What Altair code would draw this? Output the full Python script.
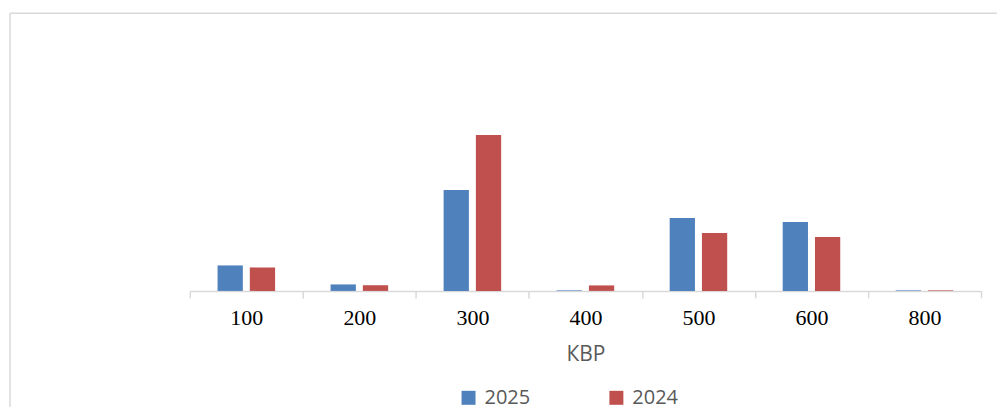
import altair as alt
import pandas as pd

categories = ["100", "200", "300", "400", "500", "600", "800"]
series = ["2025", "2024"]
values_2025 = [25.5, 6.5, 101, 0.6, 73, 69, 0.6]
values_2024 = [23.5, 5.7, 156, 5.5, 58, 54, 0.6]
colors = ["#4f81bd", "#c0504d"]

rows = []
for i, c in enumerate(categories):
    rows.append({"kvr": c, "year": "2025", "value": values_2025[i]})
    rows.append({"kvr": c, "year": "2024", "value": values_2024[i]})
df = pd.DataFrame(rows)

W, H = 792, 278

bars = alt.Chart(df).mark_bar().encode(
    x=alt.X(
        "kvr:N",
        sort=categories,
        scale=alt.Scale(paddingInner=0, paddingOuter=0),
        axis=alt.Axis(
            title="КВР",
            labelAngle=0,
            labelFont="Liberation Serif",
            labelFontSize=22,
            labelColor="#000000",
            labelPadding=10,
            titleFont="Open Sans",
            titleFontSize=21,
            titleFontWeight="normal",
            titleColor="#595959",
            titlePadding=15,
            domainColor="#d9d9d9",
            domainWidth=1.5,
            tickColor="#d9d9d9",
            tickWidth=1.5,
            tickSize=7,
            tickBand="extent",
            grid=False,
        ),
    ),
    xOffset=alt.XOffset(
        "year:N", sort=series,
        scale=alt.Scale(paddingInner=0.2167, paddingOuter=0.86),
    ),
    y=alt.Y("value:Q", scale=alt.Scale(domain=[0, H]), axis=None),
    color=alt.Color(
        "year:N",
        sort=series,
        scale=alt.Scale(domain=series, range=colors),
        legend=alt.Legend(
            title=None,
            orient="none",
            legendX=269,
            legendY=375,
            direction="horizontal",
            symbolType="square",
            symbolSize=196,
            symbolStrokeWidth=0,
            labelFont="Open Sans",
            labelFontSize=20,
            labelColor="#595959",
            labelOffset=6,
            columnPadding=76,
            padding=0,
        ),
    ),
)

frame = alt.Data(values=[{}])
top_rule = alt.Chart(frame).mark_rule(color="#d9d9d9", strokeWidth=1.5).encode(
    x=alt.value(-180), x2=alt.value(808), y=alt.value(0)
)
left_rule = alt.Chart(frame).mark_rule(color="#d9d9d9", strokeWidth=1.5).encode(
    x=alt.value(-180), y=alt.value(0), y2=alt.value(394)
)

chart = alt.layer(top_rule, left_rule, bars).properties(
    width=W, height=H,
    background="#ffffff",
    padding={"left": 1, "top": 4, "right": 0, "bottom": 6},
).configure_view(strokeWidth=0, strokeOpacity=0)

chart.save("out.html", embed_options={"renderer": "svg", "actions": False})
